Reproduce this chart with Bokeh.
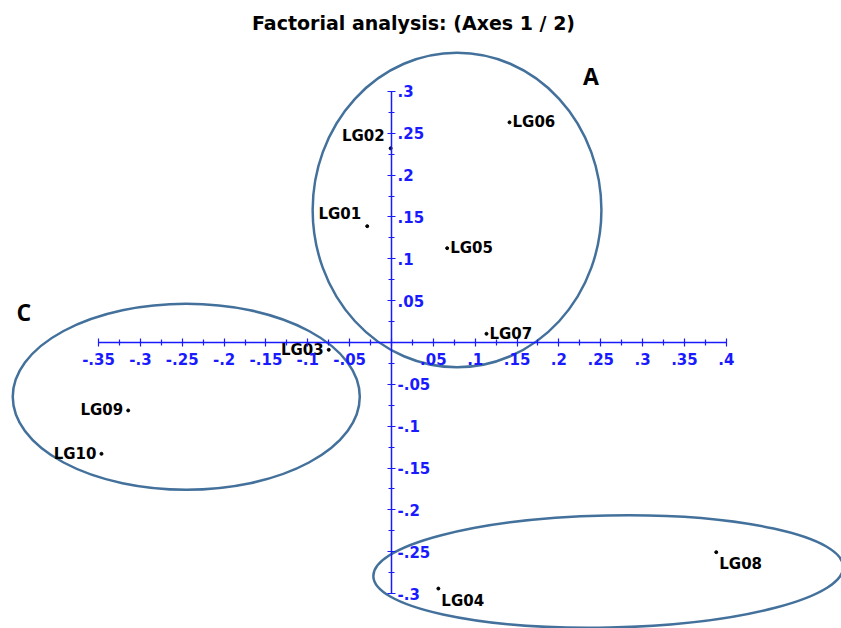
from bokeh.plotting import figure
from bokeh.models import LinearAxis, FixedTicker, CustomJSTickFormatter, Range1d, ColumnDataSource
from bokeh.core.properties import value
from bokeh.embed import file_html
from bokeh.resources import INLINE

# ---------------- data ----------------
title_text = "Factorial analysis: (Axes 1 / 2)"
names = ["LG01", "LG02", "LG03", "LG04", "LG05", "LG06", "LG07", "LG08", "LG09", "LG10"]
axis1 = [-0.029, -0.001, -0.075, 0.056, 0.0665, 0.141, 0.1135, 0.388, -0.3146, -0.3465]
axis2 = [0.139, 0.232, -0.0087, -0.294, 0.1127, 0.263, 0.0104, -0.2505, -0.0812, -0.133]
label_side = ["upleft", "upleft", "left", "downright", "right", "right", "right", "downright", "left", "left"]

x_ticks = [-0.35, -0.3, -0.25, -0.2, -0.15, -0.1, -0.05, 0.0, 0.05, 0.1, 0.15, 0.2, 0.25, 0.3, 0.35, 0.4]
y_ticks = [-0.3, -0.25, -0.2, -0.15, -0.1, -0.05, 0.0, 0.05, 0.1, 0.15, 0.2, 0.25, 0.3]

group_names = ["A", "B", "C"]
group_cx = [0.0783, 0.259, -0.2452]
group_cy = [0.1583, -0.2736, -0.0648]
group_w = [0.345, 0.5615, 0.4146]
group_h = [0.376, 0.134, 0.2222]
group_angle = [0.0, 0.02, 0.0]
group_tag = ["A", "C"]
group_tag_x = [0.2384, -0.4393]
group_tag_y = [0.318, 0.0367]

# ---------------- layout ----------------
px_per_unit = 837.0
W, H = 841, 628
x0_px, y0_px = 391.0, 342.0   # origin within canvas

p = figure(width=W, height=H, output_backend="svg", toolbar_location=None,
           x_axis_location=None, y_axis_location=None,
           x_range=Range1d(-x0_px / px_per_unit, (W - x0_px) / px_per_unit),
           y_range=Range1d(-(H - y0_px) / px_per_unit, y0_px / px_per_unit),
           min_border=0)
p.outline_line_color = None
p.xgrid.visible = False
p.ygrid.visible = False
p.background_fill_color = "white"

blue = "#1a1aff"
fmt = CustomJSTickFormatter(code="""
if (Math.abs(tick) < 1e-9) { return ""; }
let s = tick.toFixed(2).replace(/0+$/, "").replace(/\\.$/, "");
return s.replace(/^(-?)0\\./, "$1.");
""")

def minor_between(ticks):
    return [round((a + b) / 2, 4) for a, b in zip(ticks[:-1], ticks[1:])]

def style_axis(ax):
    ax.axis_line_color = blue
    ax.axis_line_width = 1.5
    ax.major_tick_line_color = blue
    ax.major_tick_line_width = 1.2
    ax.minor_tick_line_color = blue
    ax.minor_tick_line_width = 1.2
    ax.major_tick_in = 4
    ax.major_tick_out = 4
    ax.minor_tick_in = 3
    ax.minor_tick_out = 3
    ax.major_label_text_color = blue
    ax.major_label_text_font = "DejaVu Sans"
    ax.major_label_text_font_style = "bold"
    ax.major_label_text_font_size = "15px"
    ax.formatter = fmt

xa = LinearAxis(fixed_location=0, bounds=(x_ticks[0], x_ticks[-1]),
                ticker=FixedTicker(ticks=x_ticks, minor_ticks=minor_between(x_ticks)))
style_axis(xa)
xa.major_label_standoff = 6
p.add_layout(xa, "below")

ya = LinearAxis(fixed_location=0, bounds=(y_ticks[0], y_ticks[-1]),
                ticker=FixedTicker(ticks=y_ticks, minor_ticks=minor_between(y_ticks)))
style_axis(ya)
ya.major_label_standoff = 2
p.add_layout(ya, "right")

# group ellipses
p.ellipse(x=group_cx, y=group_cy, width=group_w, height=group_h, angle=group_angle,
          fill_color=None, line_color="#43719c", line_width=2.5)

# group tags
p.text(x=group_tag_x, y=group_tag_y, text=group_tag, text_font=value("Open Sans"),
       text_font_style="bold", text_font_size="23px", text_color="black",
       text_align="center", text_baseline="middle")

# points
p.scatter(x=axis1, y=axis2, size=3, fill_color="black", line_color="black")

offsets = {"left": ("right", -5, 0), "right": ("left", 3, 0),
           "upleft": ("right", -6, -12), "downright": ("left", 3, 12)}
src = ColumnDataSource(dict(
    x=axis1, y=axis2, t=names,
    align=[offsets[s][0] for s in label_side],
    dx=[offsets[s][1] for s in label_side],
    dy=[offsets[s][2] for s in label_side]))
p.text(x="x", y="y", text="t", source=src, x_offset="dx", y_offset="dy",
       text_align="align", text_baseline="middle", text_font=value("DejaVu Sans"),
       text_font_style="bold", text_font_size="15px", text_color="black")

# title
p.text(x=[(413 - x0_px) / px_per_unit], y=[(y0_px - 22) / px_per_unit], text=[title_text],
       text_font=value("DejaVu Sans"), text_font_style="bold", text_font_size="19px",
       text_color="black", text_align="center", text_baseline="middle")

open("out.html", "w").write(file_html(p, INLINE))
